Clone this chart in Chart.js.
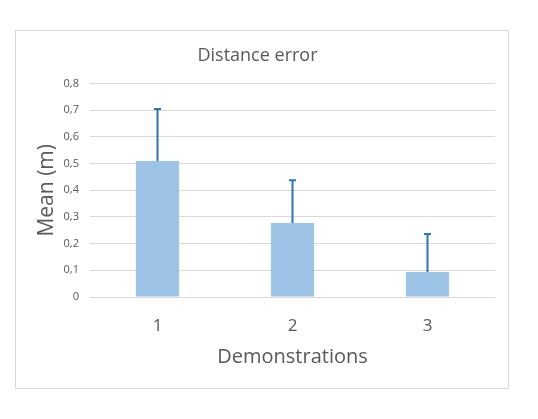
<!DOCTYPE html>
<html>
<head>
<meta charset="utf-8">
<script src="https://cdn.jsdelivr.net/npm/chart.js@4"></script>
<style>
    html, body { margin: 0; padding: 0; background: #fff; }
    #wrap { position: relative; width: 538px; height: 419px; }
    #frame { position: absolute; left: 15px; top: 30px; width: 492px; height: 357px; border: 1px solid #d9d9d9; }
    canvas { position: absolute; left: 0; top: 0; }
</style>
</head>
<body>
<div id="wrap">
    <div id="frame"></div>
    <canvas id="chart" width="538" height="419"></canvas>
</div>
<script>
// Distance error per demonstration: mean bar + upper error bar (std).
const categories  = ['1', '2', '3'];
const meanValues  = [0.51, 0.277, 0.094];
const errorValues = [0.195, 0.161, 0.142];
const yTickLabels = ['0', '0,1', '0,2', '0,3', '0,4', '0,5', '0,6', '0,7', '0,8'];

const TEXT_COLOR = '#595959';
const FONT = "'Open Sans', 'Noto Sans', sans-serif";

// Error bars are drawn through the chart scales (only the upper half, like Excel "Plus").
const errorBarPlugin = {
    id: 'errorBars',
    afterDatasetsDraw(chart) {
        const ctx = chart.ctx;
        const meta = chart.getDatasetMeta(0);
        const yScale = chart.scales.y;
        ctx.save();
        ctx.strokeStyle = '#2e75b6';
        ctx.lineWidth = 2;
        meta.data.forEach((bar, i) => {
            const x = bar.x;
            const yTop = yScale.getPixelForValue(meanValues[i] + errorValues[i]);
            const yBase = yScale.getPixelForValue(meanValues[i]);
            ctx.beginPath();
            ctx.moveTo(x, yBase);
            ctx.lineTo(x, yTop);
            ctx.moveTo(x - 3.5, yTop);
            ctx.lineTo(x + 3.5, yTop);
            ctx.stroke();
        });
        ctx.restore();
    }
};

new Chart(document.getElementById('chart').getContext('2d'), {
    type: 'bar',
    data: {
        labels: categories,
        datasets: [{
            label: 'Mean',
            data: meanValues,
            backgroundColor: '#9dc3e6',
            borderWidth: 0,
            categoryPercentage: 1,
            barPercentage: 0.32
        }]
    },
    options: {
        responsive: false,
        animation: false,
        layout: { padding: { top: 45, left: 20, right: 43, bottom: 42 } },
        plugins: {
            legend: { display: false },
            tooltip: { enabled: false },
            title: {
                display: true,
                text: 'Distance error',
                color: TEXT_COLOR,
                font: { family: FONT, size: 18, weight: 'normal' },
                padding: { top: 0, bottom: 17 }
            }
        },
        scales: {
            x: {
                grid: { display: false, drawTicks: false },
                border: { display: false },
                ticks: {
                    color: TEXT_COLOR,
                    font: { family: FONT, size: 17 },
                    padding: 19
                },
                title: {
                    display: true,
                    text: 'Demonstrations',
                    color: TEXT_COLOR,
                    font: { family: FONT, size: 20 },
                    padding: { top: 0, bottom: 8 }
                },
                afterFit: s => { s.height = 80; }
            },
            y: {
                min: 0,
                max: 0.8,
                grid: { color: '#d9d9d9', lineWidth: 1, drawTicks: false },
                border: { display: false },
                ticks: {
                    stepSize: 0.1,
                    color: TEXT_COLOR,
                    font: { family: FONT, size: 11 },
                    padding: 11,
                    callback: (v, i) => yTickLabels[i]
                },
                title: {
                    display: true,
                    text: 'Mean (m)',
                    color: TEXT_COLOR,
                    font: { family: FONT, size: 21 },
                    padding: { top: 14, bottom: 0 }
                },
                afterFit: s => { s.width = 70; }
            }
        }
    },
    plugins: [errorBarPlugin]
});
</script>
</body>
</html>
